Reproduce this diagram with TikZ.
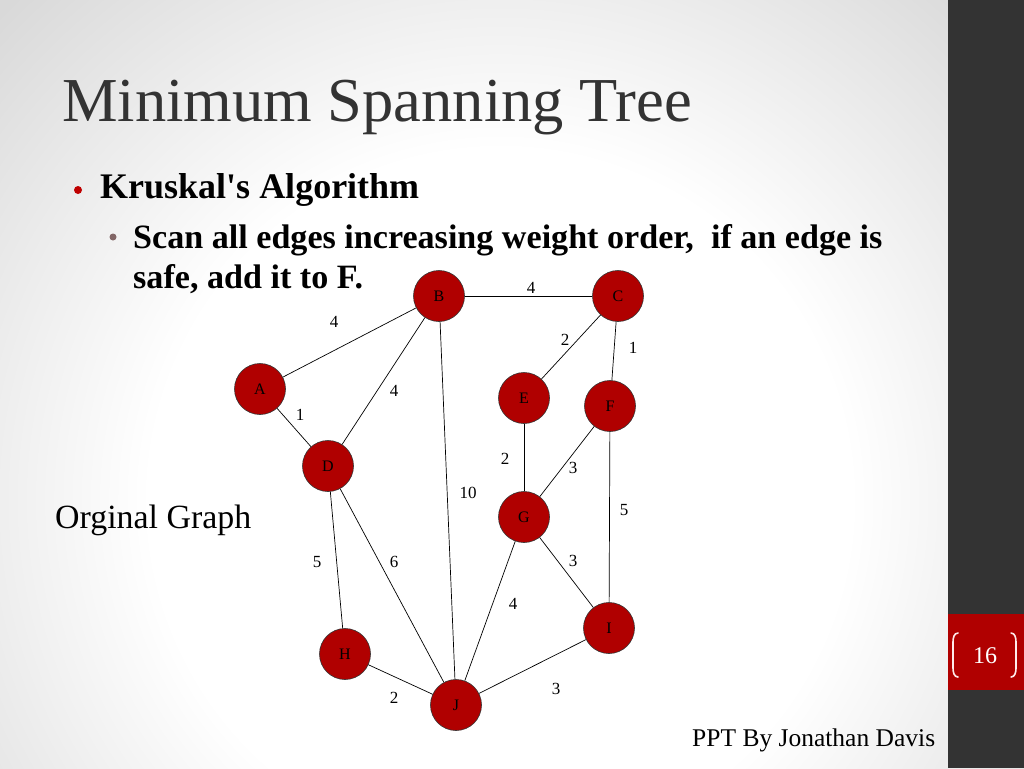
\documentclass[tikz,border=0pt]{standalone}
\usepackage{fontspec}
\setmainfont{Liberation Serif}
\newfontfamily\rawserif{Liberation Serif}
\definecolor{nodered}{HTML}{B00000}
\definecolor{band}{HTML}{333333}
\definecolor{titlegray}{HTML}{333333}
\pgfdeclareradialshading{slidebg}{\pgfpoint{0bp}{0bp}}{color(0bp)=(white); color(12.5bp)=(white); color(25bp)=(black!15); color(50bp)=(black!15)}
\begin{document}
\begin{tikzpicture}[x=1pt,y=-1pt,
  vert/.style={circle,draw=black!80,line width=0.6pt,fill=nodered,minimum size=51pt,inner sep=0pt,font=\fontsize{16}{16}\selectfont,text=black},
  edge/.style={draw=black,line width=0.7pt},
  wt/.style={font=\fontsize{17}{17}\selectfont,text=black,inner sep=0pt}]
\useasboundingbox (0,0) rectangle (1024,768);
% background
\shade[shading=slidebg] (-200,-200) rectangle (1200,1200);
\fill[band] (948,0) rectangle (1024,768);
\fill[nodered] (948,614) rectangle (1024,690);
\draw[white!92!red,line width=1.6pt,line cap=round] (958,633) to[out=180,in=90] (953,642) -- (953,668) to[out=-90,in=180] (958,677);
\draw[white!92!red,line width=1.6pt,line cap=round] (1011,633) to[out=0,in=90] (1016,642) -- (1016,668) to[out=-90,in=0] (1011,677);
\node[text=white,font=\fontsize{24}{24}\selectfont] (pg) at (985,656) {16};
% texts
\node[anchor=base west,inner sep=0pt,text=titlegray,font=\fontsize{62.5}{62.5}\selectfont] (title) at (62,121) {Minimum Spanning Tree};
\fill[red!75!black] (78,190) circle (4);
\node[anchor=base west,inner sep=0pt,font=\rawserif\bfseries\fontsize{36}{36}\selectfont] (k) at (100,198) {Kruskal's Algorithm};
\fill[black!45!red!20!gray] (113,237) circle (3.5);
\node[anchor=base west,inner sep=0pt,font=\bfseries\fontsize{34.1}{34.1}\selectfont] (s1) at (133,248) {Scan all edges increasing weight order,\ \ if an edge is};
\node[anchor=base west,inner sep=0pt,font=\bfseries\fontsize{34.1}{34.1}\selectfont] (s2) at (133,288) {safe, add it to F.};
\node[anchor=base west,inner sep=0pt,font=\fontsize{33.9}{33.9}\selectfont] (og) at (55,528) {Orginal Graph};
\node[anchor=base west,inner sep=0pt,font=\fontsize{25.5}{25.5}\selectfont] (ppt) at (692,746) {PPT By Jonathan Davis};
% vertices
\node[vert] (A) at (260,389) {A};
\node[vert] (B) at (439,296) {B};
\node[vert] (C) at (618,296) {C};
\node[vert] (E) at (524,398) {E};
\node[vert] (F) at (610,406) {F};
\node[vert] (D) at (328,466) {D};
\node[vert] (G) at (524,517) {G};
\node[vert] (H) at (345,654) {H};
\node[vert] (I) at (609,628) {I};
\node[vert] (J) at (456,705) {J};
% edges
\draw[edge] (A) -- (B);
\draw[edge] (A) -- (D);
\draw[edge] (B) -- (D);
\draw[edge] (B) -- (C);
\draw[edge] (B) -- (J);
\draw[edge] (C) -- (E);
\draw[edge] (C) -- (F);
\draw[edge] (E) -- (G);
\draw[edge] (F) -- (G);
\draw[edge] (F) -- (I);
\draw[edge] (D) -- (H);
\draw[edge] (D) -- (J);
\draw[edge] (G) -- (I);
\draw[edge] (G) -- (J);
\draw[edge] (H) -- (J);
\draw[edge] (I) -- (J);
% weights
\node[wt] (wAB) at (334,322) {4};
\node[wt] (wAD) at (300,415) {1};
\node[wt] (wBD) at (394,391) {4};
\node[wt] (wBC) at (531,288) {4};
\node[wt] (wCE) at (565,340) {2};
\node[wt] (wCF) at (633,348) {1};
\node[wt] (wEG) at (505,459) {2};
\node[wt] (wFG) at (573,468) {3};
\node[wt] (wBJ) at (468,493) {10};
\node[wt] (wFI) at (624,510) {5};
\node[wt] (wDH) at (317,562) {5};
\node[wt] (wDJ) at (394,562) {6};
\node[wt] (wGI) at (573,561) {3};
\node[wt] (wGJ) at (513,604) {4};
\node[wt] (wHJ) at (394,698) {2};
\node[wt] (wIJ) at (556,689) {3};
\end{tikzpicture}
\end{document}
